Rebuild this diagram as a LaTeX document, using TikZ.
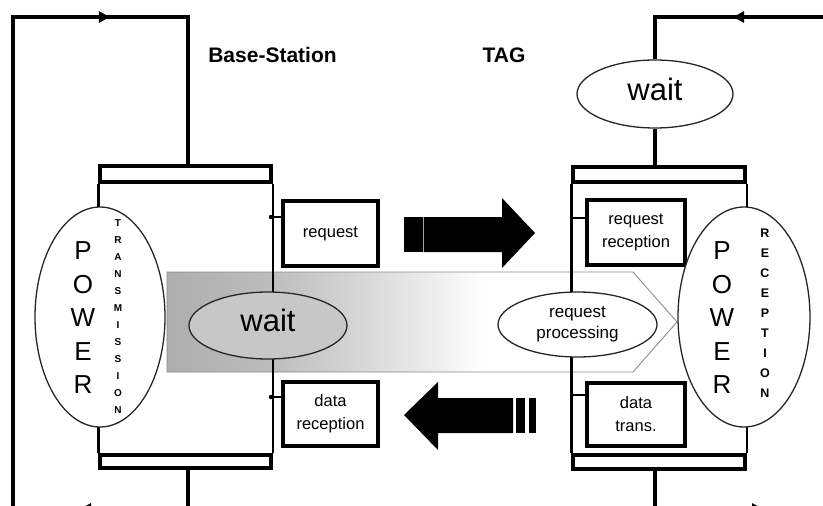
\documentclass[tikz,border=0pt]{standalone}
\usepackage{fontspec}
\setmainfont{Liberation Sans}
\usetikzlibrary{arrows.meta,shapes.geometric,decorations.markings}
\definecolor{bandL}{gray}{0.68}
\definecolor{bandA}{gray}{0.74}
\definecolor{bandB}{gray}{0.83}
\definecolor{bandC}{gray}{0.93}
\definecolor{waitgray}{gray}{0.78}
\definecolor{bandedge}{gray}{0.55}
\pgfdeclarehorizontalshading{bandshade}{100bp}{color(0bp)=(bandL); color(25bp)=(bandL); color(35bp)=(bandA); color(43bp)=(bandB); color(51bp)=(bandC); color(56bp)=(white); color(100bp)=(white)}
\begin{document}
\begin{tikzpicture}[x=1pt,y=-1pt,
  loopline/.style={line width=3.8pt, line join=miter},
  sideline/.style={line width=3.3pt},
  innerline/.style={line width=2pt},
  bandnode/.style={draw, line width=3.4pt, inner sep=0pt},
  procbox/.style={draw, line width=3.4pt, inner sep=0pt, align=center, font=\fontsize{16.5}{23}\selectfont},
  stateell/.style={ellipse, draw=black!85, line width=1.3pt, inner sep=0pt},
  powertxt/.style={align=center, inner sep=0pt, font=\fontsize{26}{33.5}\selectfont},
  ttl/.style={font=\bfseries\fontsize{21}{21}\selectfont, inner sep=0pt},
  waittxt/.style={font=\fontsize{31}{31}\selectfont, text depth=10pt},
  headmark/.style={postaction={decorate, decoration={markings, mark=at position #1 with {\arrow{Triangle[length=11pt,width=11pt]}}}}}
]
\useasboundingbox (0,0) rectangle (823,506);
\clip (0,0) rectangle (823,506);

% gradient band (processing arrow)
\shadedraw[shading=bandshade, draw=bandedge, line width=0.9pt]
  (167,272) -- (633,272) -- (677,322) -- (633,372) -- (167,372) -- cycle;

% titles
\node[ttl] (bs) at (272.5,55) {Base-Station};
\node[ttl] (tag) at (504,55) {TAG};

% station frames
\node[bandnode, minimum width=171pt, minimum height=16pt] (ltb) at (185.5,174) {};
\node[bandnode, minimum width=171pt, minimum height=13pt] (lbb) at (185.5,461.5) {};
\node[bandnode, minimum width=172pt, minimum height=15pt] (rtb) at (659,174.5) {};
\node[bandnode, minimum width=172pt, minimum height=14pt] (rbb) at (659,462) {};
\draw[sideline] (ltb.south west) -- (lbb.north west);
\draw[innerline] (ltb.south east) -- (lbb.north east);
\draw[sideline] (rtb.south west) -- (rbb.north west);
\draw[innerline] (rtb.south east) -- (rbb.north east);

% process boxes
\node[procbox, minimum width=95pt, minimum height=65pt] (req) at (330.5,233.5) {request};
\node[procbox, minimum width=95pt, minimum height=64pt] (drec) at (330.5,414) {data\\reception};
\node[procbox, minimum width=98pt, minimum height=65pt] (rrec) at (636,232.5) {request\\reception};
\node[procbox, minimum width=98pt, minimum height=63pt] (dtr) at (636,414.5) {data\\trans.};

% box connectors
\coordinate (ca) at (271,217);
\coordinate (cb) at (271,397);
\coordinate (cc) at (573,218);
\coordinate (cd) at (573,395);
\draw[innerline] (ca) -- (ca -| req.west);
\draw[innerline] (cb) -- (cb -| drec.west);
\draw[line width=2.6pt] (cc) -- (cc -| rrec.west);
\draw[line width=2.6pt] (cd) -- (cd -| dtr.west);
\fill (ca) circle (2.2pt);
\fill (cb) circle (2.2pt);

% loops
\coordinate (L0) at (13,17);
\coordinate (L1) at (188,17);
\coordinate (L2) at (13,509);
\coordinate (L3) at (188,509);
\coordinate (R0) at (655,17);
\coordinate (R1) at (840,17);
\coordinate (R2) at (840,509);
\coordinate (R3) at (655,509);
\draw[loopline] (ltb.north -| L1) -- (L1) -- (L0) -- (L2) -- (L3) -- (lbb.south -| L3);
\path[line width=3.8pt, headmark=0.554] (L0) -- (L1);
\path[line width=3.8pt, headmark=0.617] (L3) -- (L2);

% tag wait state
\node[stateell, fill=white, minimum width=156pt, minimum height=68pt, waittxt] (twait) at (655,94) {wait};
\draw[loopline] (twait.north) -- (R0) -- (R1);
\draw[loopline] (rtb.north -| twait.south) -- (twait.south);
\draw[loopline] (rbb.south -| R3) -- (R3) -- (R2);
\path[line width=3.8pt, headmark=0.578] (R1) -- (R0);
\path[line width=3.8pt, headmark=0.584] (R3) -- (R2);

% power ellipses
\node[stateell, fill=white, minimum width=130pt, minimum height=220pt] (lpow) at (100,317) {};
\node[stateell, fill=white, minimum width=132pt, minimum height=220pt] (rpow) at (744,317) {};
\node[powertxt] (lp) at (83,318) {P\\O\\W\\E\\R};
\node[align=center, inner sep=0pt, font=\bfseries\fontsize{10}{17}\selectfont] (lt) at (118,317) {T\\R\\A\\N\\S\\M\\I\\S\\S\\I\\O\\N};
\node[powertxt] (rp) at (722,318) {P\\O\\W\\E\\R};
\node[align=center, inner sep=0pt, font=\bfseries\fontsize{12.5}{20}\selectfont] (rt) at (765,313) {R\\E\\C\\E\\P\\T\\I\\O\\N};

% wait / processing states
\node[stateell, fill=waitgray, minimum width=158pt, minimum height=67pt, waittxt] (lwait) at (268,325.5) {wait};
\node[stateell, fill=white, minimum width=159pt, minimum height=65pt, font=\fontsize{17}{21}\selectfont, align=center] (proc) at (577.5,324.5) {request\\processing};

% big transfer arrows
\fill (404,217) rectangle (422.5,252);
\fill (423.5,217) -- (502,217) -- (502,198) -- (535,233) -- (502,268) -- (502,252) -- (423.5,252) -- cycle;
\fill (404,415) -- (438,382) -- (438,398) -- (513,398) -- (513,433) -- (438,433) -- (438,450) -- cycle;
\fill (516,398) rectangle (525,433);
\fill (529,398) rectangle (536,433);
\end{tikzpicture}
\end{document}
